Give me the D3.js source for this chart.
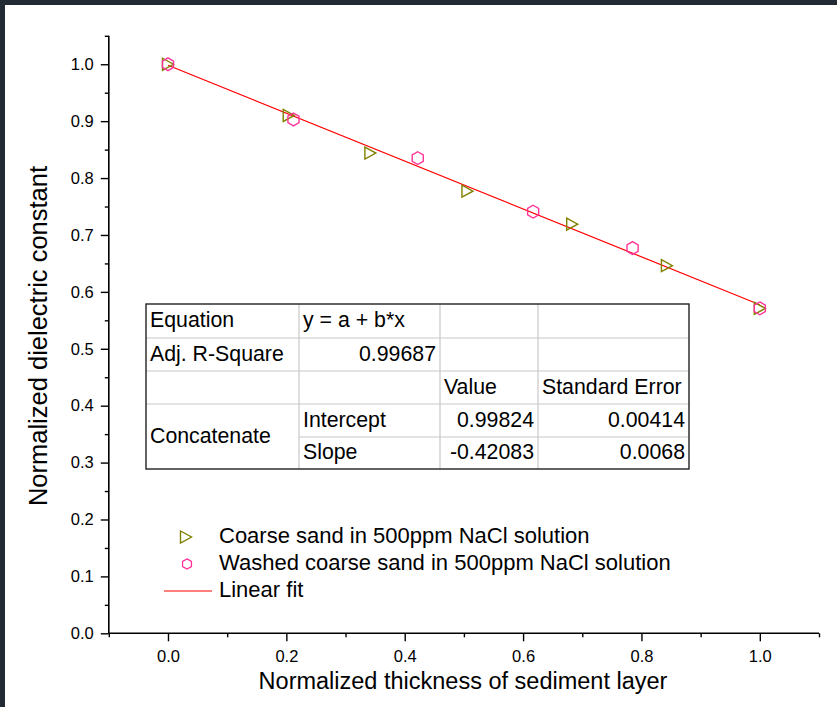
<!DOCTYPE html>
<html>
<head>
<meta charset="utf-8">
<script src="https://cdn.jsdelivr.net/npm/d3@7"></script>
<style>
  html, body { margin: 0; padding: 0; background: #222a33; }
  svg { display: block; }
  text { font-family: "Liberation Sans", Arial, sans-serif; fill: #000; }
</style>
</head>
<body>
<script>
// ---- data ----
const coarseX = [0, 0.204, 0.342, 0.506, 0.683, 0.843, 1.0];
const coarseY = [1.0, 0.910, 0.844, 0.777, 0.719, 0.646, 0.571];
const washedX = [0, 0.212, 0.422, 0.617, 0.785, 1.0];
const washedY = [1.0, 0.903, 0.835, 0.741, 0.677, 0.571];
const fitIntercept = 0.99824;
const fitSlope = -0.42083;
const fitRange = [0, 1];
const xMajorTicks = [0, 0.2, 0.4, 0.6, 0.8, 1.0];
const xMinorTicks = [-0.1, 0.1, 0.3, 0.5, 0.7, 0.9, 1.1];
const yMajorTicks = [0, 0.1, 0.2, 0.3, 0.4, 0.5, 0.6, 0.7, 0.8, 0.9, 1.0];
const yMinorTicks = [0.05, 0.15, 0.25, 0.35, 0.45, 0.55, 0.65, 0.75, 0.85, 0.95, 1.05];
const legendLabels = ["Coarse sand in 500ppm NaCl solution", "Washed coarse sand in 500ppm NaCl solution", "Linear fit"];
const tableRows = [
  ["Equation", "y = a + b*x", "", ""],
  ["Adj. R-Square", "0.99687", "", ""],
  ["", "", "Value", "Standard Error"],
  ["Concatenate", "Intercept", "0.99824", "0.00414"],
  ["", "Slope", "-0.42083", "0.0068"]
];

const W = 837, H = 707;
const svg = d3.select("body").append("svg").attr("width", W).attr("height", H);
svg.append("rect").attr("x", 5).attr("y", 5).attr("width", W - 5).attr("height", H - 5).attr("fill", "#fff");

const x = d3.scaleLinear().domain([-0.1, 1.1]).range([108.8, 819]);
const y = d3.scaleLinear().domain([0, 1.05]).range([633.3, 35.8]);

const olive = "#808000", pink = "#ff3399", red = "#ff0000";
const tickFont = "16.5px";

// X axis
const gx = svg.append("g").attr("transform", `translate(0,${y(0)})`);
gx.append("g").call(d3.axisBottom(x).tickValues(xMinorTicks).tickSize(4).tickFormat(""))
  .call(g => g.select(".domain").remove());
gx.append("g").call(d3.axisBottom(x).tickValues(xMajorTicks).tickSize(8).tickPadding(9).tickFormat(d3.format(".1f")))
  .call(g => g.select(".domain").remove())
  .call(g => g.selectAll("text").style("font-size", tickFont).style("font-family", '"Liberation Sans", Arial, sans-serif'));
gx.append("line").attr("x1", x.range()[0]).attr("x2", x.range()[1]).attr("stroke", "#000").attr("stroke-width", 1.6);
gx.selectAll(".tick line").attr("stroke-width", 1.4);

// Y axis
const gy = svg.append("g").attr("transform", `translate(${x(-0.1)},0)`);
gy.append("g").call(d3.axisLeft(y).tickValues(yMinorTicks).tickSize(4).tickFormat(""))
  .call(g => g.select(".domain").remove());
gy.append("g").call(d3.axisLeft(y).tickValues(yMajorTicks).tickSize(8).tickPadding(7).tickFormat(d3.format(".1f")))
  .call(g => g.select(".domain").remove())
  .call(g => g.selectAll("text").style("font-size", tickFont).style("font-family", '"Liberation Sans", Arial, sans-serif'));
gy.append("line").attr("y1", y.range()[0]).attr("y2", y.range()[1]).attr("stroke", "#000").attr("stroke-width", 1.6);
gy.selectAll(".tick line").attr("stroke-width", 1.4);

// Axis titles
svg.append("text").attr("x", 463).attr("y", 683).attr("text-anchor", "middle").attr("dominant-baseline", "middle")
  .style("font-size", "23.5px").text("Normalized thickness of sediment layer");
svg.append("text").attr("transform", "translate(40,336) rotate(-90)").attr("text-anchor", "middle").attr("dominant-baseline", "middle")
  .style("font-size", "25.5px").text("Normalized dielectric constant");

// Fit line
const fitLine = d3.line().x(d => x(d)).y(d => y(fitIntercept + fitSlope * d));
svg.append("path").attr("d", fitLine(fitRange)).attr("fill", "none").attr("stroke", red).attr("stroke-width", 1.2);

// markers
const triPath = "M-5.5,-6 L5.5,0 L-5.5,6 Z";
const hexPath = (() => {
  const r = 6.4; const pts = [];
  for (let i = 0; i < 6; i++) { const a = Math.PI / 3 * i - Math.PI / 2; pts.push([r * Math.cos(a), r * Math.sin(a)]); }
  return "M" + pts.map(p => p.join(",")).join("L") + "Z";
})();

svg.append("g").selectAll("path").data(coarseX.map((d, i) => [d, coarseY[i]])).join("path")
  .attr("d", triPath).attr("transform", d => `translate(${x(d[0])},${y(d[1])})`)
  .attr("fill", "none").attr("stroke", olive).attr("stroke-width", 1.4);
svg.append("g").selectAll("path").data(washedX.map((d, i) => [d, washedY[i]])).join("path")
  .attr("d", hexPath).attr("transform", d => `translate(${x(d[0])},${y(d[1])})`)
  .attr("fill", "none").attr("stroke", pink).attr("stroke-width", 1.4);

// Table
const colX = [146, 299, 440, 538, 689];
const rowY = [304, 338, 371, 404, 437, 469];
const tg = svg.append("g");
const grey = "#c8c8c8";
[1, 2, 3].forEach(c => tg.append("line").attr("x1", colX[c]).attr("x2", colX[c]).attr("y1", rowY[0]).attr("y2", rowY[5]).attr("stroke", grey).attr("stroke-width", 1.2));
[1, 2, 3].forEach(r => tg.append("line").attr("x1", colX[0]).attr("x2", colX[4]).attr("y1", rowY[r]).attr("y2", rowY[r]).attr("stroke", grey).attr("stroke-width", 1.2));
tg.append("line").attr("x1", colX[1]).attr("x2", colX[4]).attr("y1", rowY[4]).attr("y2", rowY[4]).attr("stroke", grey).attr("stroke-width", 1.2);
tg.append("rect").attr("x", colX[0]).attr("y", rowY[0]).attr("width", colX[4] - colX[0]).attr("height", rowY[5] - rowY[0])
  .attr("fill", "none").attr("stroke", "#222").attr("stroke-width", 1.4);

const tableFont = "21.3px";
const numeric = s => /^-?\d/.test(s);
tableRows.forEach((row, r) => {
  row.forEach((cell, c) => {
    if (!cell) return;
    let cy = (rowY[r] + rowY[r + 1]) / 2 + 0.5;
    if (c === 0 && cell === "Concatenate") cy = (rowY[3] + rowY[5]) / 2 + 0.5;
    const right = numeric(cell);
    tg.append("text")
      .attr("x", right ? colX[c + 1] - 4 : colX[c] + 4)
      .attr("y", cy)
      .attr("text-anchor", right ? "end" : "start")
      .attr("dominant-baseline", "middle")
      .style("font-size", tableFont)
      .text(cell);
  });
});

// Legend
const lg = svg.append("g");
const legY = [537, 564, 591];
lg.append("path").attr("d", triPath).attr("transform", `translate(186,${legY[0]})`).attr("fill", "none").attr("stroke", olive).attr("stroke-width", 1.4);
lg.append("path").attr("d", hexPath).attr("transform", `translate(187,${legY[1]}) scale(0.8)`).attr("fill", "none").attr("stroke", pink).attr("stroke-width", 1.6);
lg.append("line").attr("x1", 164).attr("x2", 212).attr("y1", legY[2]).attr("y2", legY[2]).attr("stroke", red).attr("stroke-width", 1.2);
legendLabels.forEach((t, i) => {
  lg.append("text").attr("x", 219).attr("y", legY[i]).attr("dominant-baseline", "middle").style("font-size", "22px").text(t);
});
</script>
</body>
</html>
